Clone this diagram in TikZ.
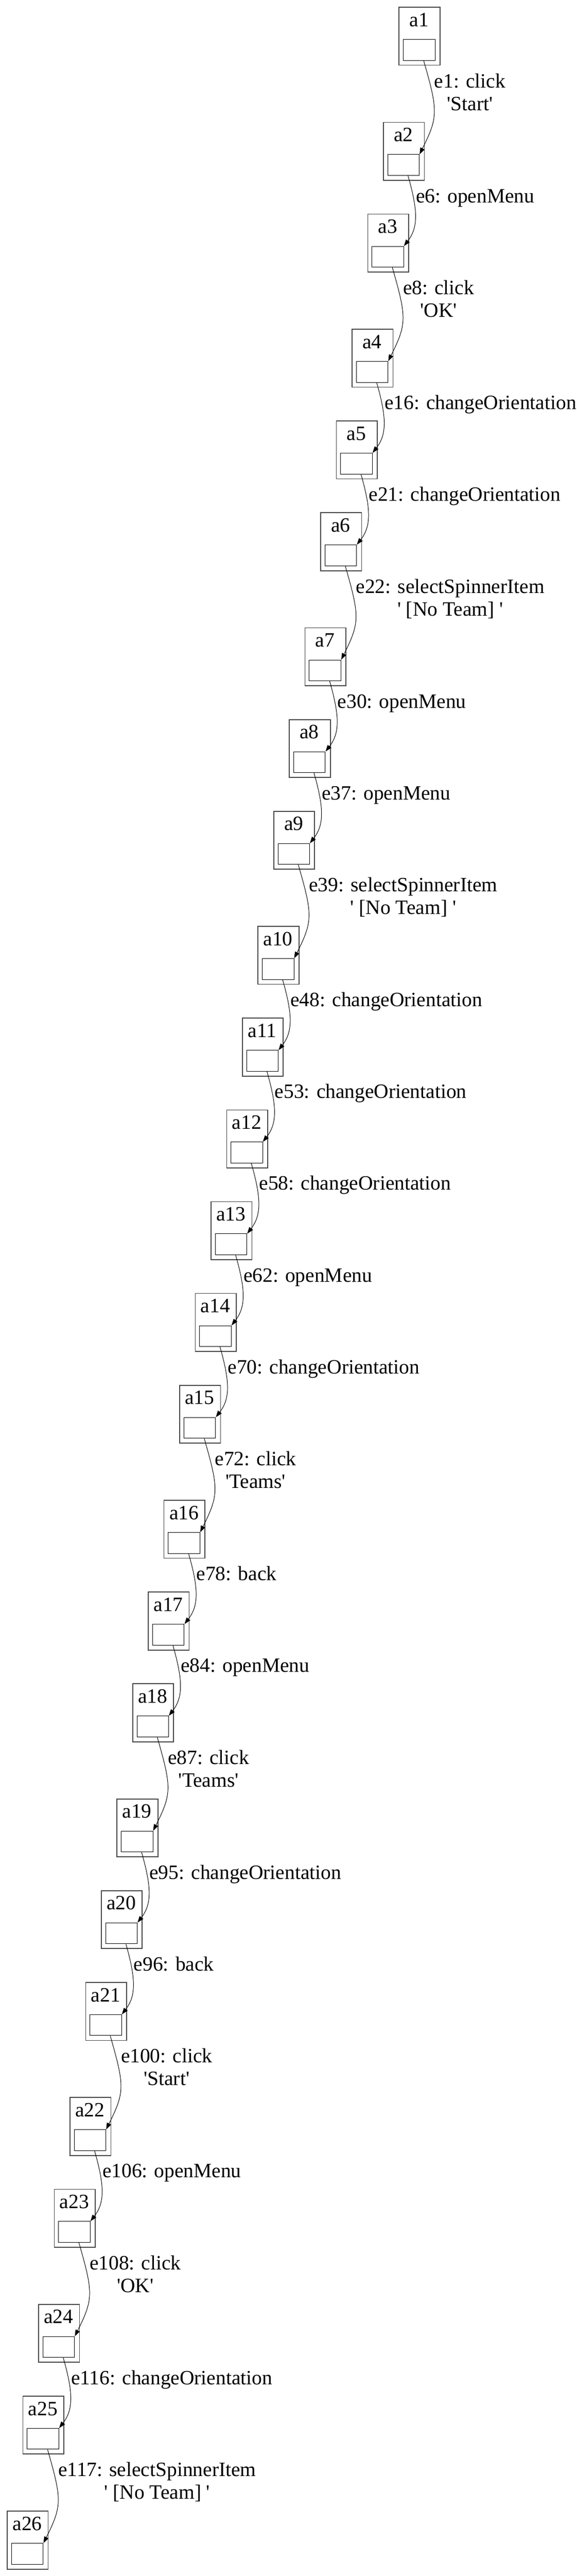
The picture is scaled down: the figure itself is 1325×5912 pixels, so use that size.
\documentclass[tikz,border=0pt]{standalone}
\usepackage{fontspec}
\newfontfamily\gvfont{Liberation Serif}
\usetikzlibrary{arrows.meta,calc}
\tikzset{
  outerbox/.style={draw=black!72, line width=0.6pt, minimum width=28.2pt, minimum height=39.9pt, inner sep=0pt, anchor=north west},
  innerbox/.style={draw=black, line width=0.35pt, minimum width=21.8pt, minimum height=14.4pt, inner sep=0pt, anchor=north west},
  boxlabel/.style={font=\gvfont\fontsize{14}{16}\selectfont, inner sep=0pt, anchor=base},
  elabel/.style={font=\gvfont\fontsize{14}{16}\selectfont, inner sep=0pt},
  trans/.style={draw=black, line width=0.35pt, -{Triangle[length=4.5pt,width=3.2pt]}},
}
% #1 index, #2 left, #3 top (pixel units)
\newcommand\mybox[3]{%
  \node[outerbox] (a#1) at (#2,#3) {};
  \node[boxlabel] (a#1-t) at (#2+47,#3+45) {a#1};
  \node[innerbox] (a#1-in) at (#2+10.3,#3+74.3) {};
}
% #1 src, #2 dst, #3 left of src, #4 top of src, #5 text
\newcommand\edgeone[5]{%
  \draw[trans] ([xshift=3.1pt]a#1-in.south) .. controls +(23,80) and +(33,-42.6) .. (a#2-in.north east);
  \node[elabel, anchor=base west] (e#1-l) at (#3+75,#4+185) {#5};
}
% #1 src, #2 dst, #3 left of src, #4 top of src, #5 line 1, #6 line 2
\newcommand\edgetwo[6]{%
  \draw[trans] ([xshift=3.1pt]a#1-in.south) .. controls +(33,115) and +(43,-86) .. (a#2-in.north east);
  \node[elabel, anchor=base west] (e#1-l) at (#3+81.5,#4+185.5) {#5};
  \node[elabel, anchor=base] (e#1-m) at ([yshift=-15.6pt]e#1-l.base) {#6};
}
\begin{document}
\begin{tikzpicture}[x=0.3pt,y=-0.3pt]
\useasboundingbox (0,0) rectangle (1325,5912);
\mybox{1}{915.7}{15.7}
\mybox{2}{879.7}{279.8}
\mybox{3}{843.7}{490.4}
\mybox{4}{807.7}{754.5}
\mybox{5}{771.7}{965.1}
\mybox{6}{735.7}{1175.7}
\mybox{7}{699.7}{1439.8}
\mybox{8}{663.7}{1650.4}
\mybox{9}{627.7}{1861.0}
\mybox{10}{591.7}{2125.1}
\mybox{11}{555.7}{2335.7}
\mybox{12}{519.7}{2546.3}
\mybox{13}{483.7}{2756.9}
\mybox{14}{447.7}{2967.5}
\mybox{15}{411.7}{3178.1}
\mybox{16}{375.7}{3442.2}
\mybox{17}{339.7}{3652.8}
\mybox{18}{303.7}{3863.4}
\mybox{19}{267.7}{4127.5}
\mybox{20}{231.7}{4338.1}
\mybox{21}{195.7}{4548.7}
\mybox{22}{159.7}{4812.8}
\mybox{23}{123.7}{5023.4}
\mybox{24}{87.7}{5287.5}
\mybox{25}{51.7}{5498.1}
\mybox{26}{15.7}{5762.2}
\edgetwo{1}{2}{915.7}{15.7}{e1: click}{'Start'}
\edgeone{2}{3}{879.7}{279.8}{e6: openMenu}
\edgetwo{3}{4}{843.7}{490.4}{e8: click}{'OK'}
\edgeone{4}{5}{807.7}{754.5}{e16: changeOrientation}
\edgeone{5}{6}{771.7}{965.1}{e21: changeOrientation}
\edgetwo{6}{7}{735.7}{1175.7}{e22: selectSpinnerItem}{' [No Team] '}
\edgeone{7}{8}{699.7}{1439.8}{e30: openMenu}
\edgeone{8}{9}{663.7}{1650.4}{e37: openMenu}
\edgetwo{9}{10}{627.7}{1861.0}{e39: selectSpinnerItem}{' [No Team] '}
\edgeone{10}{11}{591.7}{2125.1}{e48: changeOrientation}
\edgeone{11}{12}{555.7}{2335.7}{e53: changeOrientation}
\edgeone{12}{13}{519.7}{2546.3}{e58: changeOrientation}
\edgeone{13}{14}{483.7}{2756.9}{e62: openMenu}
\edgeone{14}{15}{447.7}{2967.5}{e70: changeOrientation}
\edgetwo{15}{16}{411.7}{3178.1}{e72: click}{'Teams'}
\edgeone{16}{17}{375.7}{3442.2}{e78: back}
\edgeone{17}{18}{339.7}{3652.8}{e84: openMenu}
\edgetwo{18}{19}{303.7}{3863.4}{e87: click}{'Teams'}
\edgeone{19}{20}{267.7}{4127.5}{e95: changeOrientation}
\edgeone{20}{21}{231.7}{4338.1}{e96: back}
\edgetwo{21}{22}{195.7}{4548.7}{e100: click}{'Start'}
\edgeone{22}{23}{159.7}{4812.8}{e106: openMenu}
\edgetwo{23}{24}{123.7}{5023.4}{e108: click}{'OK'}
\edgeone{24}{25}{87.7}{5287.5}{e116: changeOrientation}
\edgetwo{25}{26}{51.7}{5498.1}{e117: selectSpinnerItem}{' [No Team] '}
\end{tikzpicture}
\end{document}
